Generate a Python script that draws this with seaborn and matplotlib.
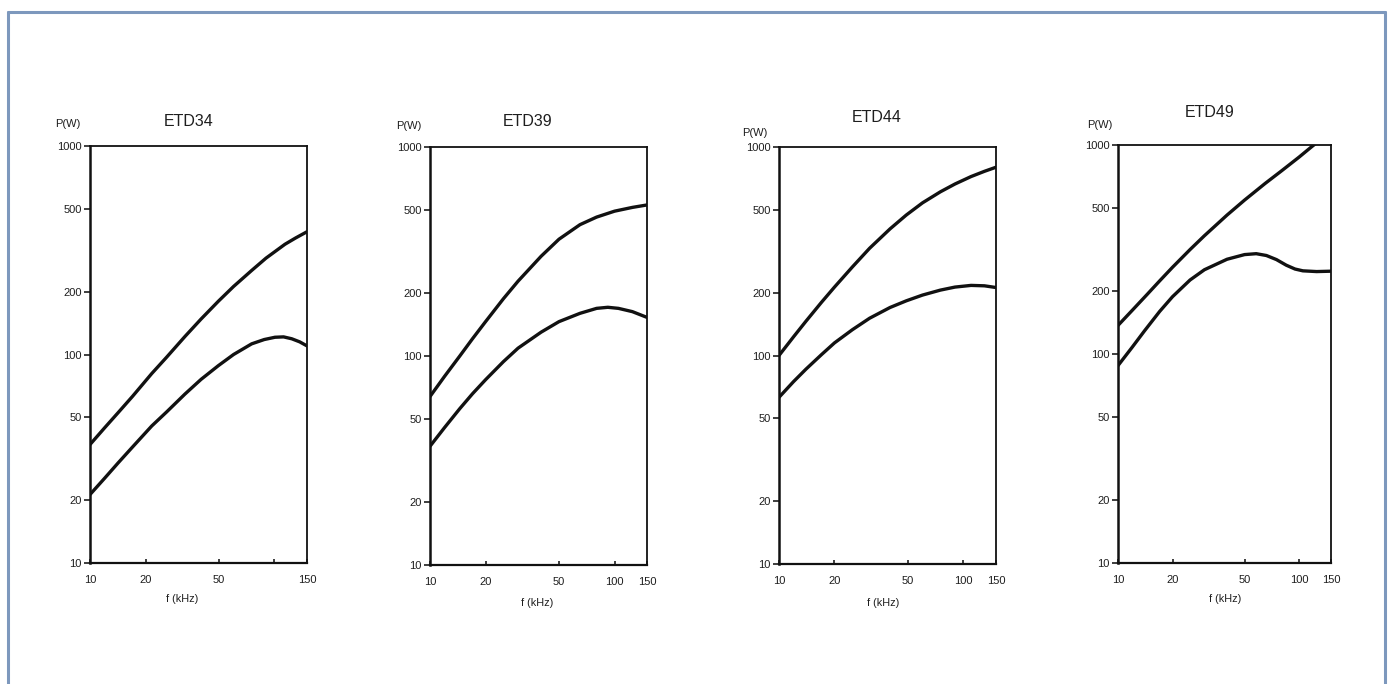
import numpy as np
import pandas as pd
import seaborn as sns
import matplotlib.pyplot as plt
from matplotlib.lines import Line2D
from matplotlib.ticker import FixedLocator, NullLocator

"""### Curve data read off the scanned chart (f in kHz, P in W)"""

titles = ["ETD34", "ETD39", "ETD44", "ETD49"]

etd34_f_hi = [10, 12, 14.2, 17, 21.6, 26, 32.7, 40, 49.6, 60, 75.2, 90, 114, 130, 150]
etd34_p_hi = [37, 44.5, 52.6, 63, 81, 97, 122, 148, 180, 212, 253, 290, 338, 362, 388]
etd34_f_lo = [10, 12, 14.2, 17, 21.6, 26, 32.7, 40, 49.6, 60, 75.2, 88, 100.6, 112, 124, 137, 150]
etd34_p_lo = [21.3, 25.5, 30.2, 36, 45.4, 53, 64.6, 76, 88.4, 100, 112.5, 118, 121, 121.5, 119, 115, 110]

etd39_f_hi = [10, 12, 14.5, 17, 20, 25, 30, 40, 50, 65, 80, 100, 125, 150]
etd39_p_hi = [64, 80, 100, 121, 146, 188, 228, 300, 362, 425, 462, 493, 514, 528]
etd39_f_lo = [10, 12, 14.5, 17, 20, 25, 30, 40, 50, 65, 80, 92, 105, 125, 150]
etd39_p_lo = [37, 45.5, 56, 66, 77, 94, 109, 130, 146, 160, 169, 171, 169, 163, 153]

etd44_f_hi = [10, 12, 14, 17, 20, 25, 31, 40, 49, 60, 75, 90, 110, 130, 150]
etd44_p_hi = [100, 123, 146, 180, 213, 266, 327, 405, 472, 540, 610, 665, 722, 765, 800]
etd44_f_lo = [10, 12, 14, 17, 20, 25, 31, 40, 49, 60, 75, 90, 110, 130, 150]
etd44_p_lo = [63, 75, 86, 101, 115, 133, 151, 170, 183, 195, 206, 213, 217, 216, 212]

etd49_f_hi = [10, 12, 14.5, 17, 20, 25, 30, 40, 50, 65, 80, 100, 118, 135, 150]
etd49_p_hi = [137, 162, 193, 224, 260, 316, 368, 462, 545, 655, 752, 875, 985, 1080, 1160]
etd49_f_lo = [10, 12, 14, 17, 20, 25, 30, 40, 50, 58, 66, 75, 85, 95, 105, 125, 150]
etd49_p_lo = [88, 108, 129, 160, 188, 226, 253, 284, 299, 302, 296, 283, 266, 255, 250, 248, 249]

y_ticks = [10, 20, 50, 100, 200, 500, 1000]
x_ticks = [10, 20, 50, 100, 150]
x_labels_first = ["10", "20", "50", "", "150"]
x_labels_rest = ["10", "20", "50", "100", "150"]

curves = [
    (etd34_f_hi, etd34_p_hi, etd34_f_lo, etd34_p_lo),
    (etd39_f_hi, etd39_p_hi, etd39_f_lo, etd39_p_lo),
    (etd44_f_hi, etd44_p_hi, etd44_f_lo, etd44_p_lo),
    (etd49_f_hi, etd49_p_hi, etd49_f_lo, etd49_p_lo),
]

rows = []
for name, (fh, ph, fl, pl) in zip(titles, curves):
    rows += [{"core": name, "curve": "hi", "f": f, "P": p} for f, p in zip(fh, ph)]
    rows += [{"core": name, "curve": "lo", "f": f, "P": p} for f, p in zip(fl, pl)]
df = pd.DataFrame(rows)

"""### Layout (figure fractions, label offsets in axes fractions)"""

axes_rects = [
    [0.0648, 0.1769, 0.1562, 0.6096],
    [0.3096, 0.1740, 0.1562, 0.6111],
    [0.5608, 0.1754, 0.1562, 0.6096],
    [0.8049, 0.1769, 0.1533, 0.6111],
]
title_pos = [(0.456, 1.060), (0.450, 1.062), (0.452, 1.072), (0.432, 1.077)]
pw_pos = [(-0.10, 1.053), (-0.10, 1.050), (-0.11, 1.034), (-0.085, 1.048)]
xlab_pos = [(0.424, -0.086), (0.493, -0.091), (0.479, -0.094), (0.502, -0.086)]

sns.set_style("white")
plt.rcParams["font.family"] = ["Liberation Sans", "DejaVu Sans"]

fig = plt.figure(figsize=(13.89, 6.84), dpi=100)
fig.patch.set_facecolor("white")

txt = "#1e1e1e"

for i, name in enumerate(titles):
    ax = fig.add_axes(axes_rects[i])
    sub = df[df["core"] == name]
    sns.lineplot(data=sub, x="f", y="P", units="curve", estimator=None,
                 color="#111111", linewidth=2.4, sort=False, ax=ax, legend=False,
                 solid_joinstyle="round", solid_capstyle="round")
    ax.set_xscale("log")
    ax.set_yscale("log")
    ax.set_xlim(10, 150)
    ax.set_ylim(10, 1000)

    ax.yaxis.set_major_locator(FixedLocator(y_ticks))
    ax.yaxis.set_minor_locator(NullLocator())
    ax.set_yticklabels([str(t) for t in y_ticks])
    ax.xaxis.set_major_locator(FixedLocator(x_ticks))
    ax.xaxis.set_minor_locator(NullLocator())
    ax.set_xticklabels(x_labels_first if i == 0 else x_labels_rest)

    ax.tick_params(axis="y", direction="out", length=4, width=1.2, pad=2,
                   labelsize=8.0, colors=txt, left=True)
    ax.tick_params(axis="x", direction="in", length=3, width=1.2, pad=8.5,
                   labelsize=8.0, colors=txt, bottom=True)

    for side, sp in ax.spines.items():
        sp.set_visible(True)
        sp.set_color("#111111")
        sp.set_linewidth(1.3)
    ax.spines["left"].set_linewidth(1.8)
    ax.spines["bottom"].set_linewidth(1.6)

    ax.set_xlabel("")
    ax.set_ylabel("")
    ax.text(*title_pos[i], name, transform=ax.transAxes, ha="center",
            va="center", fontsize=11.5, color=txt)
    ax.text(*pw_pos[i], "P(W)", transform=ax.transAxes, ha="center",
            va="center", fontsize=8.0, color=txt)
    ax.text(*xlab_pos[i], "f (kHz)", transform=ax.transAxes, ha="center",
            va="center", fontsize=7.8, color=txt)

# bluish frame of the scanned page (open at the bottom)
frame = "#7d98bd"
fig.add_artist(Line2D([8 / 1389, 8 / 1389], [0, 1 - 12 / 684], color=frame, lw=2.2))
fig.add_artist(Line2D([8 / 1389, 1385 / 1389], [1 - 12 / 684, 1 - 12 / 684], color=frame, lw=2.2))
fig.add_artist(Line2D([1385 / 1389, 1385 / 1389], [0, 1 - 12 / 684], color=frame, lw=2.2))

fig.savefig("out.png", dpi=100, facecolor="white")
